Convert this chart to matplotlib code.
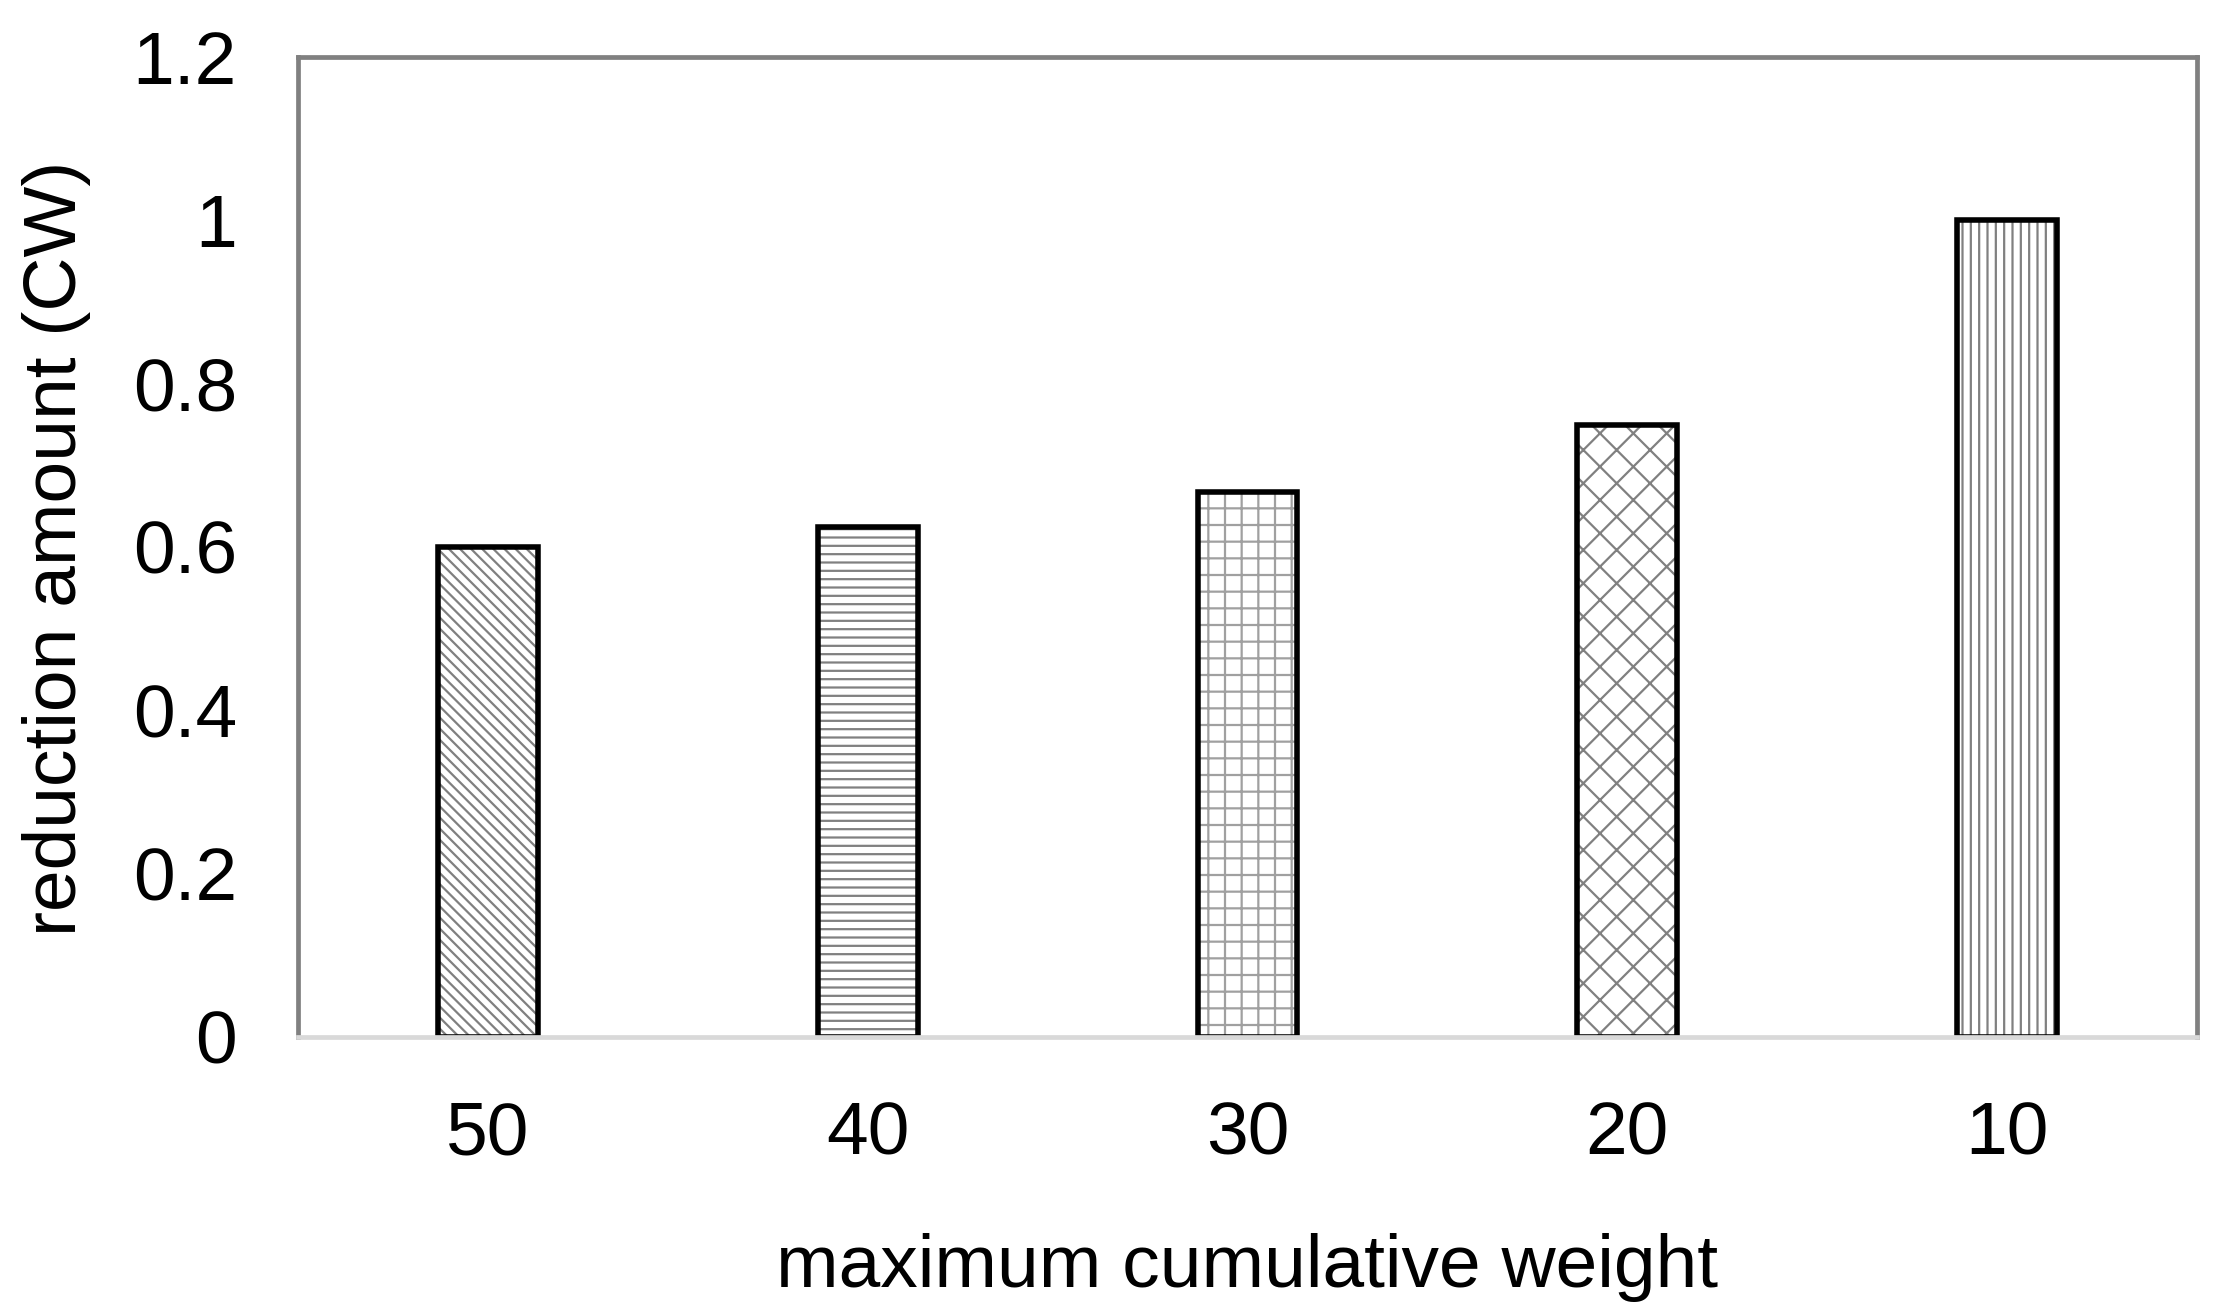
import matplotlib
matplotlib.use("Agg")
import matplotlib.pyplot as plt
from matplotlib.ticker import FuncFormatter

categories = ["50", "40", "30", "20", "10"]
values = [0.6, 0.625, 0.667, 0.75, 1.0]
hatches = ["\\\\\\", "--", "+", "x", "||"]
hatch_colors = ["#808080", "#808080", "#a0a0a0", "#808080", "#808080"]
yticks = [0, 0.2, 0.4, 0.6, 0.8, 1.0, 1.2]

plt.rcParams["font.family"] = ["Liberation Sans", "DejaVu Sans"]
plt.rcParams["hatch.linewidth"] = 1.6

fig = plt.figure(figsize=(22.23, 13.08), dpi=100)
ax = fig.add_axes([298 / 2223, 1 - 1037 / 1308, (2197 - 298) / 2223, (1037 - 57) / 1308])

x = list(range(len(categories)))
width = 0.263
for xi, v, h, hc in zip(x, values, hatches, hatch_colors):
    ax.bar(xi, v, width, color="white", edgecolor=hc, linewidth=0, hatch=h, zorder=2)
ax.bar(x, values, width, fill=False, edgecolor="black", linewidth=4, zorder=3)

ax.set_xlim(-0.5, len(categories) - 0.5)
ax.set_ylim(0, 1.2)
ax.set_yticks(yticks)
ax.yaxis.set_major_formatter(FuncFormatter(lambda v, p: f"{v:g}"))
ax.set_xticks(x)
ax.set_xticklabels(categories)
ax.tick_params(axis="both", length=0, labelsize=54)
ax.tick_params(axis="y", pad=44)
ax.tick_params(axis="x", pad=46)

for s in ["left", "top", "right"]:
    ax.spines[s].set_color("#808080")
    ax.spines[s].set_linewidth(3.4)
ax.spines["bottom"].set_color("#d9d9d9")
ax.spines["bottom"].set_linewidth(3.4)
ax.spines["bottom"].set_zorder(4)

fig.text((298 + 2197) / 2 / 2223, 1 - 1287 / 1308, "maximum cumulative weight",
         ha="center", va="baseline", fontsize=54)
fig.text(57 / 2223, 1 - 548 / 1308, "reduction amount (CW)", rotation=90,
         ha="center", va="center", fontsize=54)

fig.savefig("out.png", dpi=100, facecolor="white")
